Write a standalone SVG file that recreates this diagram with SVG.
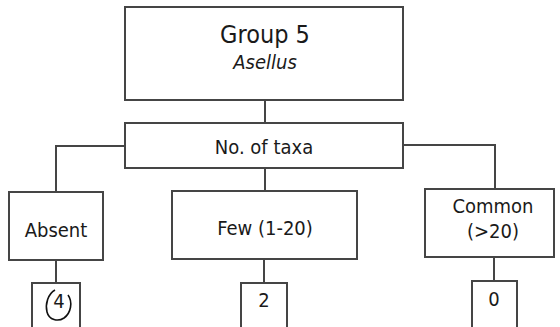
<svg xmlns="http://www.w3.org/2000/svg" width="560" height="327" viewBox="0 0 560 327">
<style>
.box{fill:#fff;stroke:#454545;stroke-width:2}
.ln{fill:none;stroke:#454545;stroke-width:2}
text{font-family:"DejaVu Sans Condensed","DejaVu Sans","Liberation Sans",sans-serif;font-stretch:condensed;fill:#1a1a1a;text-anchor:middle}
.t18{font-size:20px}
</style>
<rect width="560" height="327" fill="#fff"/>
<g id="connectors">
<path class="ln" d="M265,100V123"/>
<path class="ln" d="M125,146H56V192"/>
<path class="ln" d="M403,145H495V189"/>
<path class="ln" d="M265,168V191"/>
<path class="ln" d="M56,260V283"/>
<path class="ln" d="M264,259V283"/>
<path class="ln" d="M494,257V281"/>
</g>
<g id="group5">
<rect class="box" x="125" y="7" width="278" height="93"/>
<text x="265" y="43" style="font-size:25px">Group 5</text>
<text x="265" y="69" class="t18" font-style="italic">Asellus</text>
</g>
<g id="taxa">
<rect class="box" x="125" y="123" width="278" height="45"/>
<text x="264" y="154" class="t18">No. of taxa</text>
</g>
<g id="absent">
<rect class="box" x="9" y="192" width="94" height="68"/>
<text x="56" y="237" class="t18">Absent</text>
</g>
<g id="few">
<rect class="box" x="172" y="191" width="185" height="68"/>
<text x="265" y="235" class="t18">Few (1-20)</text>
</g>
<g id="common">
<rect class="box" x="425" y="189" width="129" height="68"/>
<text x="493" y="213" class="t18">Common</text>
<text x="493" y="238" class="t18">(&gt;20)</text>
</g>
<g id="score-absent">
<rect class="box" x="32" y="283" width="48" height="50"/>
<text x="59" y="308" class="t18">4</text>
<path fill="none" stroke="#111" stroke-width="1.6" d="M55,290 C48,294 45,304 47,312 C49,320 58,322 64,318 C71,313 73,302 68,295"/>
</g>
<g id="score-few">
<rect class="box" x="241" y="283" width="46" height="50"/>
<text x="264" y="307" class="t18">2</text>
</g>
<g id="score-common">
<rect class="box" x="472" y="281" width="45" height="52"/>
<text x="494" y="306" class="t18">0</text>
</g>
</svg>
